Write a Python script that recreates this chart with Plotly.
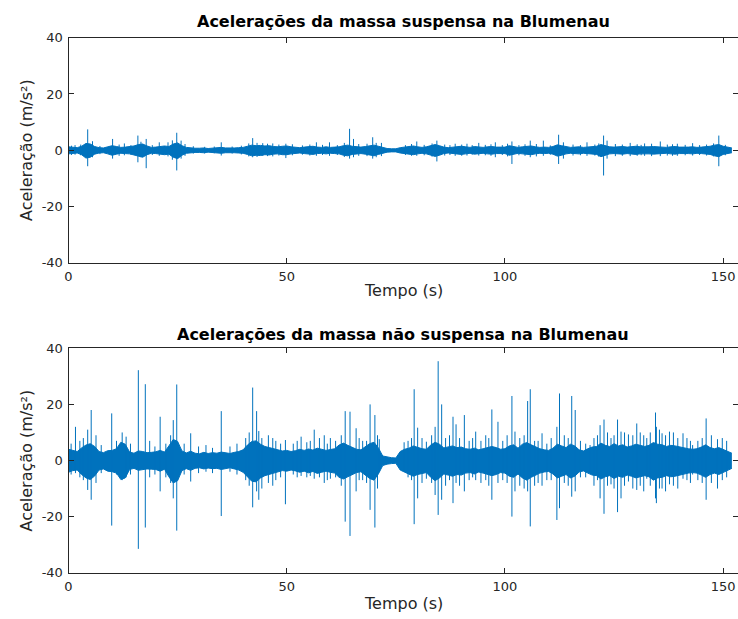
import plotly.graph_objects as go

BLUE = "#0072BD"
INK = "#262626"
FONT = "DejaVu Sans"

# Time base of the dense vibration band: one sample per second (s)
t_band = list(range(153))

# Upper / lower envelope of the sprung-mass band (m/s^2)
top_hi = [
    1.2, 1.0, 0.9, 1.4, 2.4, 2.2, 1.3, 0.9, 0.8, 1.2,
    1.6, 1.3, 1.0, 1.1, 1.2, 1.5, 2.0, 2.2, 1.5, 1.0,
    1.1, 1.4, 1.5, 1.3, 2.2, 2.6, 1.6, 1.0, 0.8, 0.7,
    0.7, 0.8, 0.6, 0.7, 0.8, 1.0, 0.8, 0.7, 0.8, 0.9,
    1.0, 1.4, 1.8, 1.6, 1.7, 1.5, 1.6, 1.3, 1.2, 1.4,
    1.5, 1.2, 1.0, 0.9, 1.1, 1.2, 1.4, 1.1, 1.0, 1.2,
    1.0, 1.1, 1.2, 1.6, 1.8, 1.4, 1.2, 1.1, 1.3, 1.6,
    1.8, 1.4, 0.9, 0.6, 0.5, 0.5, 0.9, 1.1, 1.3, 1.5,
    1.2, 1.0, 1.2, 1.5, 2.0, 1.6, 1.1, 0.9, 1.0, 1.2,
    1.4, 1.2, 1.0, 1.3, 1.1, 1.0, 1.2, 1.3, 1.1, 1.0,
    1.1, 1.6, 1.4, 1.0, 1.2, 1.3, 1.5, 1.2, 1.0, 1.1,
    1.0, 1.3, 1.9, 1.6, 1.2, 1.0, 1.1, 1.2, 1.0, 1.1,
    1.2, 1.4, 2.0, 1.6, 1.2, 1.1, 1.2, 1.3, 1.1, 1.2,
    1.4, 1.2, 1.1, 1.2, 1.3, 1.2, 1.1, 1.0, 1.2, 1.3,
    1.1, 1.0, 1.1, 1.2, 1.0, 1.1, 1.2, 1.4, 1.8, 2.0,
    1.4, 1.0, 0.8,
]
top_lo = [
    -1.3, -1.1, -1.0, -1.6, -2.8, -2.5, -1.4, -1.0, -0.9, -1.3,
    -1.8, -1.4, -1.1, -1.2, -1.3, -1.7, -2.2, -2.5, -1.6, -1.1,
    -1.2, -1.5, -1.6, -1.4, -2.5, -3.0, -1.8, -1.1, -0.9, -0.8,
    -0.8, -0.9, -0.7, -0.8, -0.9, -1.1, -0.9, -0.8, -0.9, -1.0,
    -1.1, -1.5, -2.0, -1.8, -1.9, -1.6, -1.7, -1.4, -1.3, -1.6,
    -1.6, -1.3, -1.1, -1.0, -1.2, -1.3, -1.5, -1.2, -1.1, -1.3,
    -1.1, -1.2, -1.3, -1.8, -2.0, -1.5, -1.3, -1.2, -1.4, -1.8,
    -2.0, -1.5, -1.0, -0.7, -0.6, -0.6, -1.0, -1.2, -1.4, -1.6,
    -1.3, -1.1, -1.3, -1.7, -2.2, -1.8, -1.2, -1.0, -1.1, -1.3,
    -1.5, -1.3, -1.1, -1.4, -1.2, -1.1, -1.3, -1.4, -1.2, -1.1,
    -1.2, -1.8, -1.5, -1.1, -1.3, -1.4, -1.6, -1.3, -1.1, -1.2,
    -1.1, -1.4, -2.1, -1.8, -1.3, -1.1, -1.2, -1.3, -1.1, -1.2,
    -1.3, -1.5, -2.3, -1.8, -1.3, -1.2, -1.3, -1.4, -1.2, -1.3,
    -1.5, -1.3, -1.2, -1.3, -1.4, -1.3, -1.2, -1.1, -1.3, -1.4,
    -1.2, -1.1, -1.2, -1.3, -1.1, -1.2, -1.3, -1.5, -2.0, -2.3,
    -1.5, -1.1, -0.9,
]

# Upper / lower envelope of the unsprung-mass band (m/s^2)
bot_hi = [
    4.0, 3.5, 3.2, 4.5, 5.5, 6.0, 5.0, 3.2, 2.8, 3.5,
    3.6, 4.2, 6.5, 5.8, 3.0, 2.6, 3.4, 3.2, 2.8, 2.9,
    3.1, 3.6, 3.0, 5.2, 7.5, 6.8, 3.4, 2.7, 3.3, 2.6,
    2.4, 2.9, 2.5, 2.8, 2.6, 3.0, 2.7, 2.5, 2.9, 3.2,
    3.8, 5.5, 6.8, 7.0, 5.8, 5.0, 4.6, 4.2, 3.8, 3.4,
    3.6, 3.2, 3.5, 4.0, 3.6, 4.1, 3.7, 4.4, 4.0, 3.6,
    3.9, 4.2, 5.5, 6.2, 5.4, 4.6, 4.0, 3.8, 4.8, 6.0,
    6.5, 4.5, 1.6, 1.2, 1.0, 0.9, 3.2, 4.0, 4.4, 5.2,
    4.6, 4.2, 4.0, 5.5, 6.5, 5.8, 4.5, 4.8, 5.2, 4.6,
    4.8, 4.2, 4.0, 4.4, 3.8, 4.2, 4.6, 5.0, 4.6, 4.0,
    4.2, 5.2, 5.6, 4.4, 5.8, 6.4, 5.6, 4.8, 4.2, 3.8,
    3.6, 4.4, 5.8, 5.2, 4.6, 5.8, 5.2, 3.8, 3.4, 4.2,
    4.8, 5.0, 6.2, 5.4, 5.0, 6.0, 5.2, 5.6, 4.8, 5.2,
    5.8, 5.4, 5.0, 5.4, 6.4, 5.8, 5.6, 5.0, 5.4, 5.2,
    4.8, 4.4, 4.2, 4.0, 4.2, 4.8, 5.6, 4.6, 4.2, 4.6,
    4.0, 3.4, 2.6,
]
bot_lo = [
    -4.2, -3.6, -3.4, -5.0, -6.2, -6.8, -5.5, -3.4, -3.0, -3.8,
    -4.0, -4.5, -6.8, -6.2, -3.2, -2.8, -3.5, -3.3, -3.0, -3.1,
    -3.2, -3.8, -3.1, -5.8, -8.0, -7.2, -3.6, -2.9, -3.5, -2.8,
    -2.6, -3.0, -2.7, -2.9, -2.8, -3.2, -2.8, -2.6, -3.0, -3.4,
    -4.2, -6.0, -7.4, -7.6, -6.2, -5.4, -5.0, -4.5, -4.0, -3.6,
    -3.8, -3.4, -3.7, -4.2, -3.8, -4.4, -3.9, -4.6, -4.2, -3.8,
    -4.2, -4.5, -6.0, -6.6, -5.8, -5.0, -4.3, -4.0, -5.2, -6.4,
    -7.0, -4.8, -1.8, -1.3, -1.1, -1.0, -3.4, -4.2, -4.8, -5.6,
    -5.0, -4.6, -4.3, -6.0, -7.2, -6.2, -4.8, -5.2, -5.6, -5.0,
    -5.2, -4.5, -4.3, -4.8, -4.1, -4.5, -5.0, -5.4, -5.0, -4.3,
    -4.5, -5.6, -6.0, -4.8, -6.2, -7.0, -6.0, -5.2, -4.5, -4.1,
    -3.9, -4.8, -6.2, -5.6, -5.0, -6.2, -5.6, -4.1, -3.7, -4.5,
    -5.2, -5.4, -6.6, -5.8, -5.4, -6.4, -5.6, -6.0, -5.2, -5.6,
    -6.2, -5.8, -5.4, -5.8, -7.0, -6.2, -6.0, -5.4, -5.8, -5.6,
    -5.2, -4.8, -4.5, -4.3, -4.5, -5.2, -6.0, -5.0, -4.5, -5.0,
    -4.3, -3.7, -2.8,
]

# Impact peaks, sprung mass: time (s), max and min (m/s^2)
top_spk_t = [1.5, 4.4, 10.1, 12.8, 15.9, 17.8, 20.8, 22.8, 24.8, 25.8,
             35.0, 42.2, 44.5, 46.8, 49.8, 56.8, 59.8, 64.4, 65.3, 69.7,
             71.7, 79.8, 84.4, 88.6, 91.3, 94.0, 97.8, 101.6, 105.8, 108.8,
             112.3, 113.4, 118.8, 122.6, 123.4, 128.7, 132.0, 135.6, 139.5, 143.0,
             149.0]
top_spk_hi = [1.8, 7.4, 4.0, 2.4, 5.2, 4.0, 2.8, 2.8, 6.2, 3.4,
              2.8, 4.3, 2.5, 2.4, 2.3, 2.8, 2.8, 7.6, 4.0, 4.6,
              2.6, 3.1, 3.4, 2.3, 2.3, 2.6, 2.8, 3.1, 3.4, 3.4,
              5.5, 2.8, 2.8, 5.2, 3.4, 2.6, 2.4, 3.1, 2.3, 2.5,
              5.2]
top_spk_lo = [-1.6, -5.7, -3.0, -1.8, -4.3, -6.4, -2.0, -2.2, -7.2, -3.0,
              -1.9, -2.5, -2.0, -2.2, -2.8, -2.0, -2.0, -3.0, -2.5, -3.0,
              -2.1, -2.0, -4.0, -2.0, -1.9, -1.9, -2.5, -4.9, -2.5, -2.0,
              -4.9, -3.0, -2.0, -9.0, -3.0, -2.1, -2.0, -2.1, -2.0, -1.9,
              -5.7]

# Smaller oscillation peaks riding on the sprung-mass band
top_minor_t = [0.7, 2.8, 5.5, 7.2, 11.6, 14.3, 16.6, 19.2, 23.8, 26.7,
               28.6, 31.2, 33.4, 37.5, 39.6, 41.3, 43.2, 45.6, 48.2, 51.3,
               53.6, 55.3, 58.2, 61.6, 63.2, 66.5, 68.4, 70.5, 77.2, 78.6,
               81.5, 83.3, 86.2, 87.4, 90.1, 92.5, 95.5, 96.8, 99.4, 100.6,
               103.2, 104.6, 107.2, 110.4, 115.6, 117.3, 120.6, 121.5, 125.3, 126.9,
               130.3, 131.2, 133.6, 137.2, 138.4, 141.3, 144.6, 146.2, 147.8, 150.5]
top_minor_hi = [1.6, 2.0, 3.2, 1.5, 2.0, 1.8, 3.0, 1.8, 3.5, 2.2,
                1.4, 1.2, 1.3, 1.3, 1.6, 2.4, 2.6, 2.3, 2.0, 2.1,
                1.7, 2.0, 1.9, 1.8, 2.6, 2.2, 2.3, 2.6, 1.8, 2.2,
                1.9, 2.4, 2.0, 1.8, 2.0, 1.8, 1.9, 2.1, 1.8, 2.3,
                1.8, 2.1, 2.2, 1.7, 2.0, 1.8, 2.0, 2.4, 2.2, 2.0,
                2.1, 1.9, 2.3, 2.0, 2.1, 1.9, 1.8, 2.0, 2.4, 1.9]
top_minor_lo = [-1.7, -1.8, -2.5, -1.4, -2.0, -1.6, -2.5, -1.7, -3.4, -2.0,
                -1.2, -1.2, -1.1, -1.2, -1.5, -2.2, -2.4, -2.1, -1.9, -1.8,
                -1.6, -1.9, -1.7, -1.7, -2.4, -2.0, -2.1, -2.5, -1.7, -2.0,
                -1.8, -2.3, -1.9, -1.7, -2.0, -1.6, -1.8, -2.0, -1.7, -2.2,
                -1.8, -2.0, -2.2, -1.6, -1.9, -1.8, -1.9, -2.3, -2.1, -2.0,
                -2.0, -1.8, -2.1, -1.9, -2.0, -1.8, -1.7, -1.9, -2.2, -1.8]

# Impact peaks, unsprung mass: time (s), max and min (m/s^2)
bot_spk_t = [1.6, 4.4, 5.2, 9.9, 12.3, 13.2, 16.0, 17.6, 21.0, 24.0,
             24.8, 28.0, 35.0, 42.2, 43.1, 43.6, 45.8, 46.8, 49.7, 53.3,
             56.3, 58.6, 60.0, 63.4, 64.5, 65.9, 67.4, 69.1, 70.2, 71.2,
             76.9, 79.2, 80.0, 82.0, 84.0, 84.7, 85.5, 88.1, 88.8, 90.7,
             93.3, 97.0, 98.4, 101.6, 102.3, 105.2, 105.8, 106.8, 108.5, 111.9,
             112.5, 115.3, 116.1, 119.5, 121.8, 122.7, 124.3, 125.8, 126.6, 128.3,
             130.2, 132.5, 134.5, 134.7, 136.0, 137.7, 140.8, 143.0, 146.1, 148.7]
bot_spk_hi = [12.0, 11.0, 18.0, 16.8, 10.0, 8.5, 32.2, 27.2, 15.6, 14.4,
              27.1, 9.7, 17.6, 26.0, 17.6, 10.5, 9.0, 8.0, 7.3, 8.5,
              11.0, 9.0, 8.0, 17.6, 17.4, 11.5, 7.0, 20.0, 16.2, 7.6,
              6.5, 25.4, 11.7, 6.7, 12.0, 35.4, 20.0, 15.6, 12.9, 16.2,
              10.3, 18.2, 13.8, 23.0, 10.3, 21.2, 25.4, 7.0, 9.7, 12.0,
              23.9, 23.0, 18.0, 5.5, 12.6, 14.6, 8.0, 14.6, 10.3, 9.3,
              13.2, 8.0, 17.1, 12.0, 9.7, 10.3, 9.7, 5.5, 15.0, 7.6]
bot_spk_lo = [-4.5, -10.5, -14.0, -23.2, -7.0, -6.0, -31.5, -23.9, -11.0, -13.5,
              -25.0, -7.5, -19.8, -16.7, -11.0, -14.0, -8.0, -9.0, -15.6, -5.5,
              -6.5, -8.0, -6.5, -21.8, -26.9, -11.0, -7.0, -17.6, -23.9, -4.0,
              -3.5, -22.7, -13.5, -6.5, -12.3, -19.4, -14.0, -15.2, -8.0, -11.0,
              -7.0, -14.0, -8.0, -20.0, -11.0, -11.0, -23.5, -9.0, -9.0, -21.2,
              -17.0, -12.9, -11.0, -4.0, -13.5, -19.0, -8.5, -18.4, -13.5, -7.5,
              -10.5, -6.5, -13.5, -15.2, -10.0, -8.5, -6.5, -5.0, -14.0, -10.0]

# Smaller oscillation peaks riding on the unsprung-mass band
bot_minor_t = [0.6, 2.6, 3.4, 6.3, 7.5, 11.0, 14.2, 18.6, 19.8, 22.3,
               23.4, 26.5, 29.8, 31.5, 33.0, 37.0, 38.6, 40.6, 41.4, 44.3,
               47.5, 48.6, 51.5, 52.4, 54.6, 55.4, 57.5, 59.3, 61.2, 62.5,
               66.6, 68.3, 70.8, 77.8, 78.6, 81.0, 83.2, 86.4, 87.3, 89.6,
               91.8, 92.6, 94.5, 95.6, 96.3, 99.5, 100.5, 103.4, 104.4, 107.6,
               109.6, 110.6, 113.6, 114.5, 117.3, 118.5, 120.4, 121.2, 123.5, 125.0,
               127.4, 129.3, 131.0, 131.8, 133.3, 135.4, 136.8, 138.6, 139.6, 141.7,
               142.5, 144.2, 145.2, 147.3, 149.8, 150.8]
bot_minor_hi = [6.0, 7.0, 8.0, 9.0, 5.5, 7.0, 6.0, 7.0, 5.0, 6.0,
                9.0, 6.0, 5.0, 5.5, 4.5, 5.0, 6.0, 8.0, 10.0, 8.0,
                7.0, 6.0, 6.0, 7.0, 6.5, 7.0, 8.0, 6.0, 7.0, 9.0,
                8.0, 7.0, 9.0, 7.0, 8.0, 8.0, 9.0, 8.0, 9.0, 8.0,
                7.0, 8.0, 7.0, 9.0, 8.0, 7.0, 9.0, 8.0, 9.0, 7.0,
                6.0, 8.0, 9.0, 8.0, 7.0, 6.0, 8.0, 9.0, 10.0, 9.0,
                10.0, 9.0, 10.0, 9.0, 10.0, 11.0, 9.0, 10.0, 8.0, 8.0,
                7.0, 7.0, 8.0, 9.0, 8.0, 7.0]
bot_minor_lo = [-5.0, -6.0, -7.0, -8.0, -4.5, -5.0, -5.0, -6.0, -5.0, -6.0,
                -8.0, -5.0, -4.5, -4.0, -4.5, -4.0, -5.0, -7.0, -9.0, -10.0,
                -7.0, -6.0, -5.0, -6.0, -6.0, -5.5, -6.0, -7.0, -6.0, -9.0,
                -7.0, -8.0, -10.0, -6.0, -7.0, -8.0, -8.0, -9.0, -7.0, -9.0,
                -7.0, -6.0, -8.0, -7.0, -9.0, -7.0, -8.0, -9.0, -10.0, -8.0,
                -7.0, -7.0, -8.0, -9.0, -6.0, -6.0, -9.0, -7.0, -9.0, -10.0,
                -9.0, -10.0, -9.0, -11.0, -9.0, -10.0, -11.0, -9.0, -10.0, -7.0,
                -8.0, -7.0, -8.0, -8.0, -7.0, -6.0]

titles = ["Acelerações da massa suspensa na Blumenau",
          "Acelerações da massa não suspensa na Blumenau"]
x_title = "Tempo (s)"
y_title = "Aceleração (m/s²)"
x_ticks = [0, 50, 100, 150]
y_ticks = [-40, -20, 0, 20, 40]
y_tick_text = ["-40", "-20", "0", "20", "40"]


def spike_path(ts, his, los):
    xs, ys = [], []
    for t, h, l in zip(ts, his, los):
        xs += [t, t, None]
        ys += [l, h, None]
    return xs, ys


fig = go.Figure()

panels = [
    ("x", "y", top_hi, top_lo,
     top_spk_t + top_minor_t, top_spk_hi + top_minor_hi, top_spk_lo + top_minor_lo),
    ("x2", "y2", bot_hi, bot_lo,
     bot_spk_t + bot_minor_t, bot_spk_hi + bot_minor_hi, bot_spk_lo + bot_minor_lo),
]
for xa, ya, hi, lo, st, sh, sl in panels:
    fig.add_trace(go.Scatter(x=t_band, y=hi, xaxis=xa, yaxis=ya, mode="lines",
                             line=dict(color=BLUE, width=1), hoverinfo="skip"))
    fig.add_trace(go.Scatter(x=t_band, y=lo, xaxis=xa, yaxis=ya, mode="lines",
                             line=dict(color=BLUE, width=1), fill="tonexty",
                             fillcolor=BLUE, hoverinfo="skip"))
    sx, sy = spike_path(st, sh, sl)
    fig.add_trace(go.Scatter(x=sx, y=sy, xaxis=xa, yaxis=ya, mode="lines",
                             line=dict(color=BLUE, width=1), connectgaps=False,
                             hoverinfo="skip"))

W, H = 738, 619
x_dom = [68.5 / W, 1.0]
top_dom = [(H - 262.7) / H, (H - 37.7) / H]
bot_dom = [(H - 572.7) / H, (H - 348.3) / H]

axis_font = dict(family=FONT, size=13, color=INK)
xaxis_common = dict(range=[0, 153.4], tickvals=x_ticks, ticks="inside", ticklen=5,
                    tickcolor=INK, showline=True, linecolor=INK, linewidth=1,
                    mirror="ticks", showgrid=False, zeroline=False,
                    tickfont=axis_font, ticklabelstandoff=2)
yaxis_common = dict(range=[-40, 40], tickvals=y_ticks, ticktext=y_tick_text,
                    ticks="inside", ticklen=5, tickcolor=INK, showline=True,
                    linecolor=INK, linewidth=1, mirror="ticks", showgrid=False,
                    zeroline=False, tickfont=axis_font, ticklabelstandoff=2)

fig.update_layout(
    width=W, height=H,
    margin=dict(l=0, r=0, t=0, b=0, autoexpand=False),
    paper_bgcolor="white", plot_bgcolor="white",
    showlegend=False,
    xaxis=dict(domain=x_dom, anchor="y", **xaxis_common),
    yaxis=dict(domain=top_dom, anchor="x", **yaxis_common),
    xaxis2=dict(domain=x_dom, anchor="y2", **xaxis_common),
    yaxis2=dict(domain=bot_dom, anchor="x2", **yaxis_common),
)

# Panel titles and axis labels
ann = []
for title, ytop, ymid, ybot in [(titles[0], 22, 150, 290),
                                (titles[1], 334, 460.5, 603)]:
    ann.append(dict(text=title, x=403 / W, y=1 - ytop / H,
                    xref="paper", yref="paper", xanchor="center", yanchor="middle",
                    showarrow=False,
                    font=dict(family=FONT, size=16, color="black", weight="bold")))
    ann.append(dict(text=x_title, x=403 / W, y=1 - ybot / H,
                    xref="paper", yref="paper", xanchor="center", yanchor="middle",
                    showarrow=False, font=dict(family=FONT, size=16, color=INK)))
    ann.append(dict(text=y_title, x=26 / W, y=1 - ymid / H, textangle=-90,
                    xref="paper", yref="paper", xanchor="center", yanchor="middle",
                    showarrow=False, font=dict(family=FONT, size=16, color=INK)))
fig.update_layout(annotations=ann)

fig.write_html("out.html")
